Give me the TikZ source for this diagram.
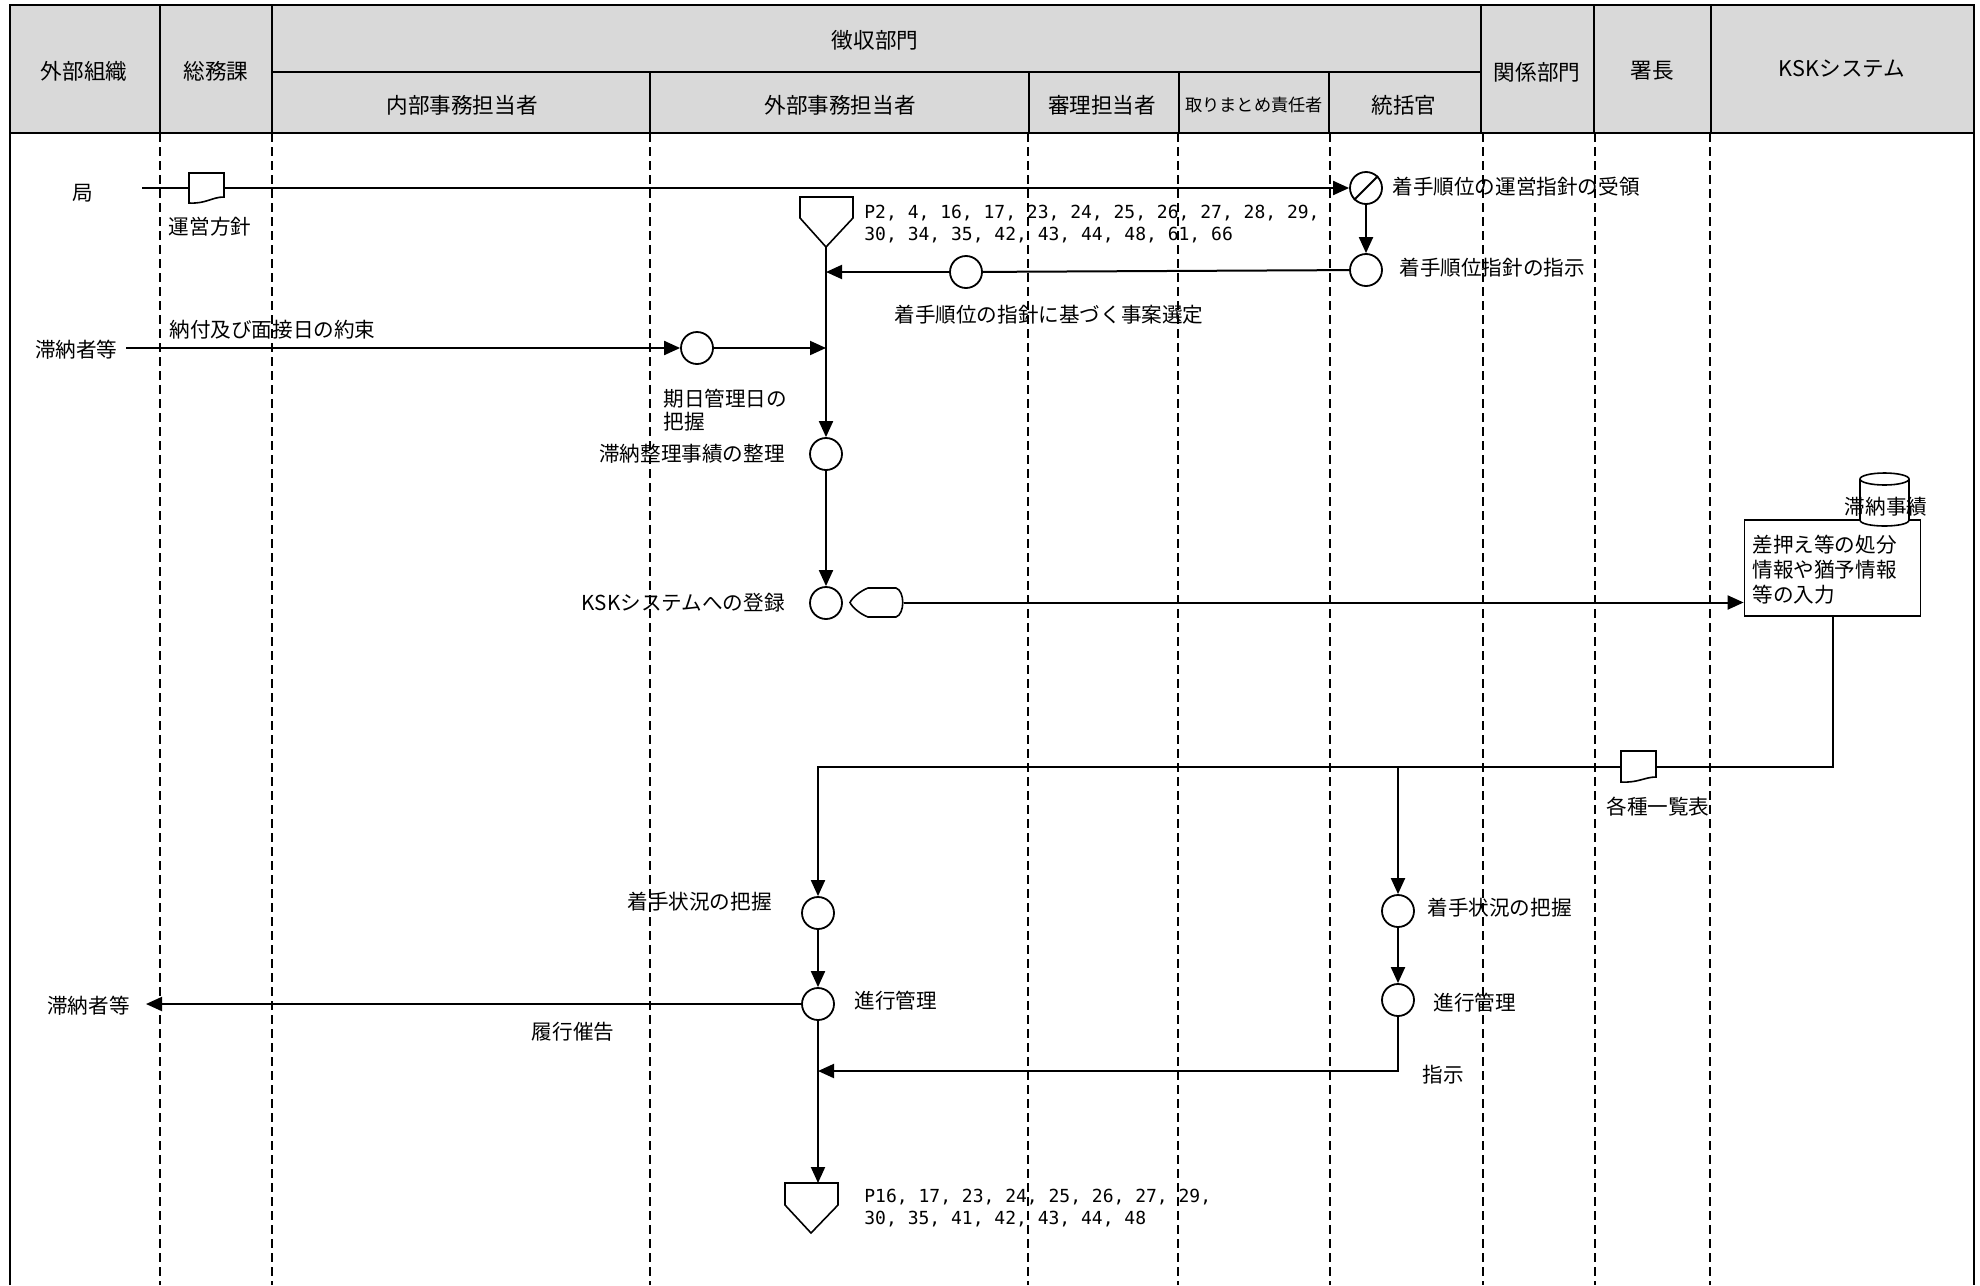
\documentclass[tikz,border=0pt]{standalone}
\usepackage{fontspec}
\setmainfont{Noto Sans CJK JP}
\newfontfamily\numfont{DejaVu Sans Mono}
\usetikzlibrary{arrows.meta}
\definecolor{hdrgray}{RGB}{217,217,217}
\begin{document}
\begin{tikzpicture}[x=0.5pt,y=-0.5pt,
  lane/.style={line width=0.7pt, dash pattern=on 4.5pt off 2.5pt},
  conn/.style={line width=1pt},
  arr/.style={conn, -{Triangle[length=8pt,width=7pt]}},
  proc/.style={circle, draw, fill=white, minimum size=16pt, inner sep=0pt, line width=0.9pt},
  lbl/.style={font=\fontsize{10.3}{12}\selectfont, inner sep=0pt},
  hdr/.style={font=\fontsize{10.8}{13}\selectfont, inner sep=0pt},
  nums/.style={font=\numfont\fontsize{9}{11}\selectfont, inner sep=0pt, align=left},
  sym/.style={draw, fill=white, line width=0.8pt},
]
\useasboundingbox (0,0) rectangle (1980,1285);
% header
\fill[hdrgray] (10,5) rectangle (1974,133);
\foreach \x in {160,272,650,1028,1178,1330,1483,1595,1710} \draw[lane] (\x,133) -- (\x,1285);
\draw[line width=1.2pt] (10,1285) -- (10,5) -- (1974,5) -- (1974,1285);
\draw[line width=1.2pt] (10,133) -- (1974,133);
\draw[line width=1pt] (160,5)--(160,133) (272,5)--(272,133) (1481,5)--(1481,133) (1594,5)--(1594,133) (1711,5)--(1711,133)
  (272,72)--(1481,72) (650,72)--(650,133) (1029,72)--(1029,133) (1179,72)--(1179,133) (1329,72)--(1329,133);
\node[hdr] (h1) at (84,71) {外部組織};
\node[hdr] (h2) at (216,71) {総務課};
\node[hdr] (h3) at (875,40) {徴収部門};
\node[hdr] (h4) at (462,105) {内部事務担当者};
\node[hdr] (h5) at (840,105) {外部事務担当者};
\node[hdr] (h6) at (1102,105) {審理担当者};
\node[hdr, font=\fontsize{8.6}{10}\selectfont] (h7) at (1254,105) {取りまとめ責任者};
\node[hdr] (h8) at (1404,105) {統括官};
\node[hdr] (h9) at (1537,72) {関係部門};
\node[hdr] (h10) at (1652,71) {署長};
\node[hdr] (h11) at (1842,69) {KSKシステム};
% top part
\node[lbl] (kyoku) at (83,193) {局};
\coordinate (kst) at (142,188);
\node[proc] (c1) at (1366,188) {};
\draw[line width=0.9pt] (c1.south west) -- (c1.north east);
\draw[arr] (kst) -- (c1);
\draw[sym] (189,173) -- (224,173) -- (224,197) .. controls (212,197) and (206,204) .. (189,203) -- cycle;
\node[lbl] (unei) at (210,227) {運営方針};
\node[lbl, anchor=west] (t1) at (1392,187) {着手順位の運営指針の受領};
\node[proc] (c2) at (1366,270) {};
\draw[arr] (c1) -- (c2);
\node[lbl, anchor=west] (t2) at (1399,268) {着手順位指針の指示};
\node[proc] (c3) at (966,272) {};
\draw[conn] (c2) -- (c3);
\coordinate (m1) at (826,272);
\draw[arr] (c3) -- (m1);
\node[lbl] (t3) at (1049,315) {着手順位の指針に基づく事案選定};
\draw[sym] (800,197) -- (853,197) -- (853,218) -- (826,247) -- (800,218) -- cycle;
\coordinate (p1) at (826,247);
\node[nums, anchor=west] (n1) at (864,224) {P2, 4, 16, 17, 23, 24, 25, 26, 27, 28, 29,\\30, 34, 35, 42, 43, 44, 48, 61, 66};
\node[lbl, anchor=east] (tai1) at (118,350) {滞納者等};
\coordinate (tst) at (126,348);
\node[proc] (c4) at (697,348) {};
\draw[arr] (tst) -- (c4);
\node[lbl, anchor=west] (t4) at (169,330) {納付及び面接日の約束};
\coordinate (m2) at (826,348);
\draw[arr] (c4) -- (m2);
\node[lbl, anchor=west, align=left, font=\fontsize{10.3}{11.5}\selectfont] (t5) at (663,410) {期日管理日の\\把握};
\node[proc] (c5) at (826,454) {};
\draw[arr] (p1) -- (c5);
\node[lbl, anchor=east] (t6) at (785,454) {滞納整理事績の整理};
\node[proc] (c6) at (826,603) {};
\draw[arr] (c5) -- (c6);
\node[lbl, anchor=east] (t7) at (785,603) {KSKシステムへの登録};
% display symbol
\node[draw, fill=white, line width=0.9pt, minimum width=88pt, minimum height=48pt, inner sep=0pt] (box) at (1832.5,568) {};
\coordinate (disp) at (903.5,602.5);
\draw[arr] (disp) -- (disp -| box.west);
\draw[sym] (868,588) -- (896,588) .. controls (905,591) and (905,614) .. (896,617) -- (868,617) .. controls (860,614) and (852,607) .. (850,602.5) .. controls (852,598) and (860,591) .. (868,588) -- cycle;
\node[lbl, anchor=west, align=left, font=\fontsize{10.3}{12.5}\selectfont] (boxt) at (1752,570) {差押え等の処分\\情報や猶予情報\\等の入力};
\draw[sym] (1860,479) -- (1860,520) .. controls (1860,528) and (1909,528) .. (1909,520) -- (1909,479);
\draw[sym] (1884.5,479) ellipse [x radius=24.5, y radius=6];
\node[lbl] (db) at (1886,507) {滞納事績};
% lower part
\node[proc] (c7) at (818,913) {};
\coordinate (j1) at (818,767);
\draw[arr] (box.south) |- (j1) -- (c7);
\coordinate (j2) at (1398,767);
\node[proc] (c9) at (1398,911) {};
\draw[arr] (j2) -- (c9);
\draw[sym] (1621,751) -- (1656,751) -- (1656,777) .. controls (1645,777) and (1638,783) .. (1621,782) -- cycle;
\node[lbl] (t8) at (1658,807) {各種一覧表};
\node[lbl, anchor=east] (t9) at (772,902) {着手状況の把握};
\node[proc] (c8) at (818,1004) {};
\draw[arr] (c7) -- (c8);
\node[lbl, anchor=west] (t10) at (854,1001) {進行管理};
\coordinate (t2e) at (146,1004);
\draw[arr] (c8) -- (t2e);
\node[lbl, anchor=east] (tai2) at (130,1006) {滞納者等};
\node[lbl] (t11) at (573,1032) {履行催告};
\node[lbl, anchor=west] (t12) at (1427,908) {着手状況の把握};
\node[proc] (c10) at (1398,1000) {};
\draw[arr] (c9) -- (c10);
\node[lbl, anchor=west] (t13) at (1433,1003) {進行管理};
\coordinate (j3) at (818,1071);
\draw[arr] (c10) |- (j3);
\node[lbl, anchor=west] (t14) at (1422,1075) {指示};
\coordinate (p2) at (818,1183);
\draw[arr] (c8) -- (p2);
\draw[sym] (785,1183) -- (838,1183) -- (838,1205) -- (811,1233) -- (785,1205) -- cycle;
\node[nums, anchor=west] (n2) at (864,1208) {P16, 17, 23, 24, 25, 26, 27, 29,\\30, 35, 41, 42, 43, 44, 48};
\end{tikzpicture}
\end{document}
